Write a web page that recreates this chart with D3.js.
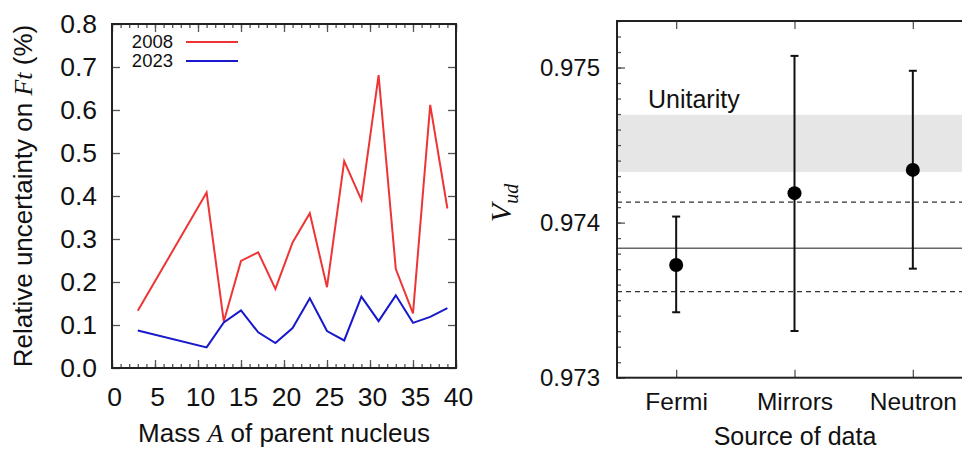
<!DOCTYPE html>
<html><head><meta charset="utf-8">
<script src="https://cdn.jsdelivr.net/npm/d3@7"></script>
<style>
html,body{margin:0;padding:0;background:#fff;}
svg text{font-family:"Liberation Sans",Arial,sans-serif;fill:#111;}
.it{font-family:"Liberation Serif","Times New Roman",serif;font-style:italic;}
</style></head>
<body><svg id="c" width="962" height="450"></svg>
<script>
// ---------- data: left panel ----------
const massA = [3,11,13,15,17,19,21,23,25,27,29,31,33,35,37,39];
const unc2008 = [0.133,0.408,0.108,0.249,0.269,0.184,0.292,0.360,0.188,0.481,0.391,0.681,0.230,0.127,0.612,0.371];
const unc2023 = [0.087,0.048,0.106,0.134,0.083,0.058,0.093,0.162,0.086,0.064,0.166,0.109,0.169,0.105,0.119,0.139];
const seriesNames = ["2008","2023"];
const leftXTicks = [0,5,10,15,20,25,30,35,40];
const leftYTicks = [0,0.1,0.2,0.3,0.4,0.5,0.6,0.7,0.8];

// ---------- data: right panel ----------
const sources = ["Fermi","Mirrors","Neutron"];
const vudValue = [0.973727,0.974190,0.974340];
const vudLow   = [0.973422,0.973301,0.973703];
const vudHigh  = [0.974039,0.975075,0.974979];
const vudAvg = 0.973835;
const vudAvgBand = [0.973555,0.974132];
const unitarityBand = [0.974327,0.974695];
const rightYTicks = [0.973,0.974,0.975];

const svg = d3.select("#c");
const SANS = "'Liberation Sans',Arial,sans-serif";

// ================= LEFT PANEL =================
const L = {l:112, r:456, t:24, b:368};
const xL = d3.scaleLinear().domain([0,40]).range([L.l,L.r]);
const yL = d3.scaleLinear().domain([0,0.8]).range([L.b,L.t]);
const gL = svg.append("g");

const minorX = d3.range(0,41,1);
function tickStyle(g){ g.select(".domain").remove(); g.selectAll("line").attr("stroke","#555").attr("stroke-width",1.3); }
function labStyle(g,fs){ g.selectAll("text").attr("font-size",fs).style("font-family",SANS).attr("fill","#111"); }

gL.append("g").attr("transform",`translate(0,${L.b})`)
  .call(d3.axisBottom(xL).tickValues(minorX).tickSize(-4).tickFormat("")).call(tickStyle);
gL.append("g").attr("transform",`translate(0,${L.t})`)
  .call(d3.axisTop(xL).tickValues(minorX).tickSize(-4).tickFormat("")).call(tickStyle);
gL.append("g").attr("transform",`translate(0,${L.t})`)
  .call(d3.axisTop(xL).tickValues(leftXTicks).tickSize(-8).tickFormat("")).call(tickStyle);
const bx = gL.append("g").attr("transform",`translate(0,${L.b})`)
  .call(d3.axisBottom(xL).tickValues(leftXTicks).tickSize(-8).tickPadding(19).tickFormat(d3.format("d"))).call(tickStyle);
bx.call(labStyle,26.5); bx.selectAll("text").attr("dx",2);

const ly = gL.append("g").attr("transform",`translate(${L.l},0)`)
  .call(d3.axisLeft(yL).tickValues(leftYTicks).tickSize(-8).tickPadding(15).tickFormat(d3.format(".1f"))).call(tickStyle);
ly.call(labStyle,26.5);
gL.append("g").attr("transform",`translate(${L.r},0)`)
  .call(d3.axisRight(yL).tickValues(leftYTicks).tickSize(-8).tickFormat("")).call(tickStyle);

// lines
const lineGen = vals => d3.line().x((d,i)=>xL(massA[i])).y(d=>yL(d))(vals);
gL.append("path").attr("d",lineGen(unc2008)).attr("fill","none").attr("stroke","#ee3535").attr("stroke-width",2);
gL.append("path").attr("d",lineGen(unc2023)).attr("fill","none").attr("stroke","#1818cc").attr("stroke-width",2);

// frame
gL.append("rect").attr("x",L.l).attr("y",L.t).attr("width",L.r-L.l).attr("height",L.b-L.t)
  .attr("fill","none").attr("stroke","#222").attr("stroke-width",2);

// legend
const legColors = ["#ee3535","#1818cc"];
seriesNames.forEach((n,i)=>{
  const yy = 42 + i*19;
  gL.append("text").attr("x",173).attr("y",yy).attr("dy","0.35em").attr("text-anchor","end").attr("font-size",18.5).text(n);
  gL.append("line").attr("x1",186).attr("x2",238).attr("y1",yy).attr("y2",yy).attr("stroke",legColors[i]).attr("stroke-width",2);
});

// axis titles
const tx = gL.append("text").attr("x",284).attr("y",442).attr("text-anchor","middle").attr("font-size",26);
tx.append("tspan").text("Mass ");
tx.append("tspan").attr("class","it").text("A");
tx.append("tspan").text(" of parent nucleus");

const ty = gL.append("text").attr("transform",`translate(32,196) rotate(-90)`).attr("text-anchor","middle").attr("font-size",26);
ty.append("tspan").text("Relative uncertainty on ");
ty.append("tspan").attr("class","it").text("Ft");
ty.append("tspan").text(" (%)");

// ================= RIGHT PANEL =================
const R = {l:617, r:972, t:21, b:377.7};
const xR = d3.scaleLinear().domain([0.5,3.5]).range([R.l,R.r]);
const yR = d3.scaleLinear().domain([0.973,0.9753]).range([R.b,R.t]);
const gR = svg.append("g");
const catPos = sources.map((s,i)=>i+1);

// unitarity band
gR.append("rect").attr("x",R.l).attr("width",R.r-R.l)
  .attr("y",yR(unitarityBand[1])).attr("height",yR(unitarityBand[0])-yR(unitarityBand[1]))
  .attr("fill","#e6e6e6");
gR.append("text").attr("x",648).attr("y",108).attr("font-size",25).text("Unitarity");

// average lines
gR.append("line").attr("x1",R.l).attr("x2",R.r).attr("y1",yR(vudAvg)).attr("y2",yR(vudAvg))
  .attr("stroke","#666").attr("stroke-width",1.6);
vudAvgBand.forEach(v=>{
  gR.append("line").attr("x1",R.l).attr("x2",R.r).attr("y1",yR(v)).attr("y2",yR(v))
    .attr("stroke","#333").attr("stroke-width",1.3).attr("stroke-dasharray","5,4");
});

// ticks
const minorY = d3.range(0,24).map(i=>+(0.973+i*0.0001).toFixed(4));
gR.append("g").attr("transform",`translate(${R.l},0)`)
  .call(d3.axisLeft(yR).tickValues(minorY).tickSize(-4).tickFormat("")).call(tickStyle);
const ry = gR.append("g").attr("transform",`translate(${R.l},0)`)
  .call(d3.axisLeft(yR).tickValues(rightYTicks).tickSize(-8).tickPadding(17).tickFormat(d3.format(".3f"))).call(tickStyle);
ry.call(labStyle,24);
gR.append("g").attr("transform",`translate(0,${R.t})`)
  .call(d3.axisTop(xR).tickValues(catPos).tickSize(-8).tickFormat("")).call(tickStyle);
const rx = gR.append("g").attr("transform",`translate(0,${R.b})`)
  .call(d3.axisBottom(xR).tickValues(catPos).tickSize(-8).tickPadding(15).tickFormat(d=>sources[d-1])).call(tickStyle);
rx.call(labStyle,24.5);

// error bars
sources.forEach((s,i)=>{
  const cx = xR(catPos[i]);
  gR.append("line").attr("x1",cx).attr("x2",cx).attr("y1",yR(vudLow[i])).attr("y2",yR(vudHigh[i]))
    .attr("stroke","#111").attr("stroke-width",2);
  [vudLow[i],vudHigh[i]].forEach(v=>{
    gR.append("line").attr("x1",cx-4).attr("x2",cx+4).attr("y1",yR(v)).attr("y2",yR(v))
      .attr("stroke","#111").attr("stroke-width",2);
  });
  gR.append("circle").attr("cx",cx).attr("cy",yR(vudValue[i])).attr("r",7).attr("fill","#000");
});

// frame
gR.append("rect").attr("x",R.l).attr("y",R.t).attr("width",R.r-R.l).attr("height",R.b-R.t)
  .attr("fill","none").attr("stroke","#222").attr("stroke-width",2);

// titles
gR.append("text").attr("x",795).attr("y",445).attr("text-anchor","middle").attr("font-size",25).text("Source of data");
const vt = gR.append("text").attr("transform",`translate(511,203) rotate(-90)`).attr("text-anchor","middle").attr("class","it").attr("font-size",30);
vt.append("tspan").text("V");
vt.append("tspan").attr("font-size",20).attr("dy",7).text("ud");
</script></body></html>
